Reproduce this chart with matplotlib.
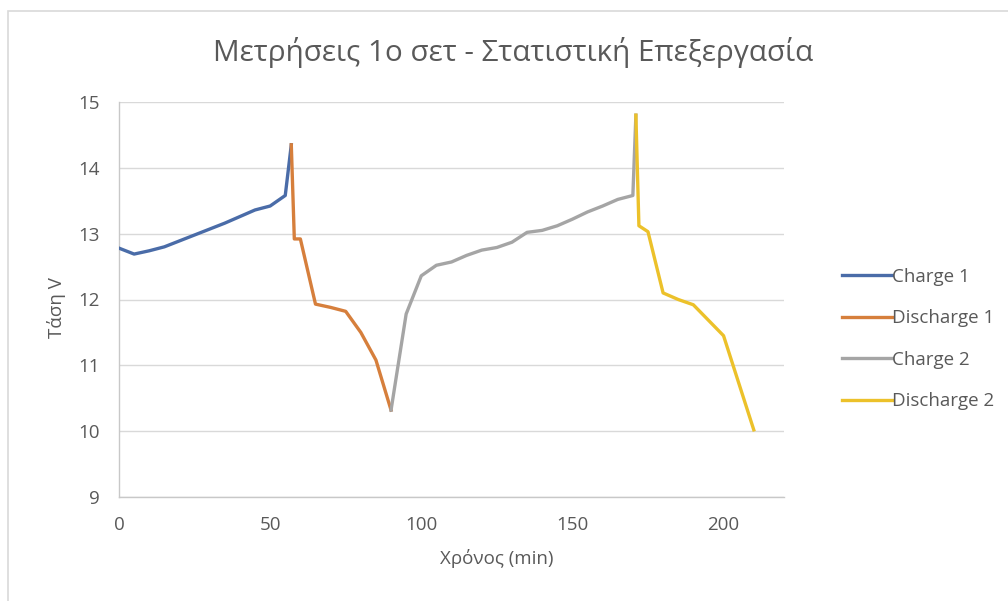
import matplotlib
matplotlib.use("Agg")
import matplotlib.pyplot as plt
from matplotlib.patches import Rectangle

plt.rcParams['font.family'] = ['Open Sans', 'DejaVu Sans']

# Battery voltage measurements (time in minutes, voltage in V)
charge1_t = [0, 5, 10, 15, 20, 25, 30, 35, 40, 45, 50, 55, 57]
charge1_v = [12.78, 12.69, 12.74, 12.80, 12.89, 12.98, 13.07, 13.16, 13.26, 13.36, 13.42, 13.58, 14.35]

discharge1_t = [57, 58, 60, 65, 70, 75, 80, 85, 90]
discharge1_v = [14.35, 12.92, 12.92, 11.93, 11.88, 11.82, 11.50, 11.08, 10.32]

charge2_t = [90, 95, 100, 105, 110, 115, 120, 125, 130, 135, 140, 145, 150, 155, 160, 165, 170, 171]
charge2_v = [10.32, 11.78, 12.36, 12.52, 12.57, 12.67, 12.75, 12.79, 12.87, 13.02, 13.05, 13.12,
             13.22, 13.33, 13.42, 13.52, 13.58, 14.80]

discharge2_t = [171, 172, 175, 180, 185, 190, 200, 210]
discharge2_v = [14.80, 13.12, 13.03, 12.10, 12.00, 11.92, 11.45, 10.02]

series_names = ["Charge 1", "Discharge 1", "Charge 2", "Discharge 2"]
series_colors = ["#4a6ca8", "#d67f3c", "#a5a5a5", "#ecc12a"]

x_ticks = [0, 50, 100, 150, 200]
y_ticks = [9, 10, 11, 12, 13, 14, 15]

title = "Μετρήσεις 1ο σετ - Στατιστική Επεξεργασία"
x_label = "Χρόνος (min)"
y_label = "Τάση V"

W, H = 1008, 601
fig = plt.figure(figsize=(W / 100, H / 100), dpi=100)
fig.patch.set_facecolor("white")

# chart area border
fig.add_artist(Rectangle((8 / W, -0.1), 1.2, 1 - 11 / H + 0.1, transform=fig.transFigure,
                         fill=False, edgecolor="#d9d9d9", linewidth=1.2))

ax = fig.add_axes([119 / W, 1 - 497 / H, (784 - 119) / W, (497 - 102) / H])

data = [(charge1_t, charge1_v), (discharge1_t, discharge1_v),
        (charge2_t, charge2_v), (discharge2_t, discharge2_v)]
for (t, v), name, c in zip(data, series_names, series_colors):
    ax.plot(t, v, color=c, linewidth=2.4, label=name, solid_joinstyle="round", zorder=3)

ax.set_xlim(0, 220)
ax.set_ylim(9, 15)
ax.set_xticks(x_ticks)
ax.set_yticks(y_ticks)
ax.grid(axis="y", color="#d9d9d9", linewidth=1.0, zorder=0)
for s in ["top", "right"]:
    ax.spines[s].set_visible(False)
for s in ["left", "bottom"]:
    ax.spines[s].set_color("#c8c8c8")
    ax.spines[s].set_linewidth(1.0)
ax.tick_params(axis="both", length=0, labelcolor="#595959", labelsize=13.5)
ax.tick_params(axis="y", pad=14)
ax.tick_params(axis="x", pad=14)

fig.text(513 / W, 1 - 52 / H, title, ha="center", va="center", fontsize=21.3, color="#595959")
fig.text(497 / W, 1 - 558 / H, x_label, ha="center", va="center", fontsize=13.5, color="#595959")
fig.text(57 / W, 1 - 308 / H, y_label, ha="center", va="center", rotation=90, fontsize=13.5,
         color="#595959")

fig.legend(loc="center left", bbox_to_anchor=(825 / W, 1 - 339 / H), frameon=False,
           fontsize=13.5, handlelength=2.65, handletextpad=0.05, labelspacing=1.25,
           labelcolor="#595959")

fig.savefig("out.png", dpi=100, facecolor="white")
